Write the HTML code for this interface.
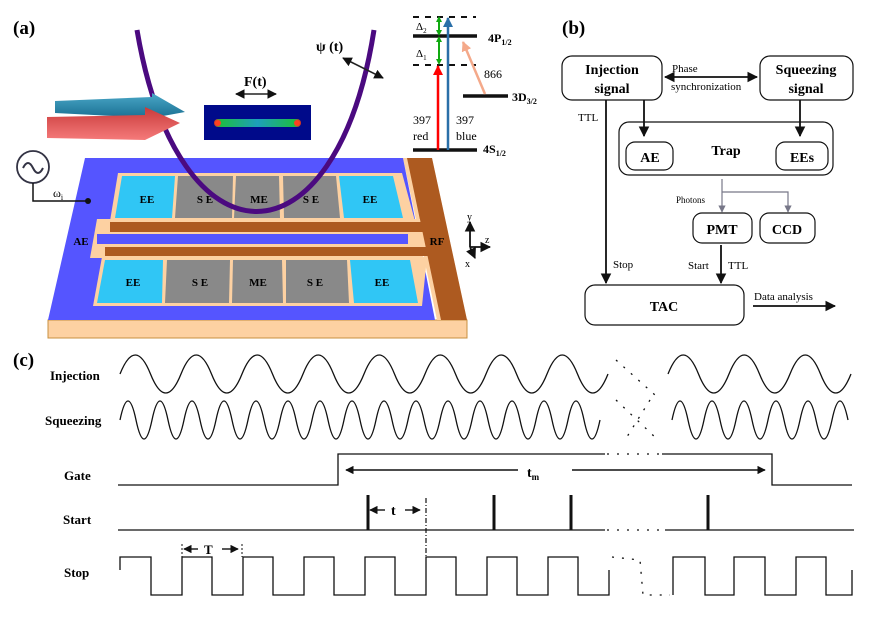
<!DOCTYPE html>
<html><head><meta charset="utf-8"><style>
html,body{margin:0;padding:0;background:#fff;}
svg{display:block;}
text{font-family:"Liberation Serif",serif;}
.b{font-weight:bold;}
</style></head><body>
<svg width="872" height="617" viewBox="0 0 872 617" xmlns="http://www.w3.org/2000/svg">
<defs>
<marker id="ah" viewBox="0 0 10 10" refX="9" refY="5" markerWidth="6" markerHeight="6" orient="auto-start-reverse"><path d="M0,0 L10,5 L0,10 z" fill="#111"/></marker>
<marker id="ahg" viewBox="0 0 10 10" refX="9" refY="5" markerWidth="6" markerHeight="6" orient="auto"><path d="M0,0 L10,5 L0,10 z" fill="#778"/></marker>
<marker id="ahr" viewBox="0 0 10 10" refX="9" refY="5" markerWidth="4" markerHeight="4" orient="auto"><path d="M0,0 L10,5 L0,10 z" fill="#f00"/></marker>
<marker id="ahb" viewBox="0 0 10 10" refX="9" refY="5" markerWidth="4" markerHeight="4" orient="auto"><path d="M0,0 L10,5 L0,10 z" fill="#2a6fa8"/></marker>
<marker id="ahp" viewBox="0 0 10 10" refX="9" refY="5" markerWidth="4" markerHeight="4" orient="auto"><path d="M0,0 L10,5 L0,10 z" fill="#f4a98a"/></marker>
<marker id="ahgr" viewBox="0 0 10 10" refX="5" refY="5" markerWidth="3" markerHeight="3" orient="auto-start-reverse"><path d="M0,0 L10,5 L0,10 z" fill="#1a1"/></marker>
<linearGradient id="gb" x1="0" y1="0" x2="0" y2="1"><stop offset="0" stop-color="#4aa8c8"/><stop offset="1" stop-color="#1a6f92"/></linearGradient>
<linearGradient id="gr" x1="0" y1="0" x2="0" y2="1"><stop offset="0" stop-color="#c83a3a"/><stop offset="1" stop-color="#f57a7a"/></linearGradient>
<linearGradient id="gion" x1="0" y1="0" x2="1" y2="0"><stop offset="0" stop-color="#ff3010"/><stop offset="0.08" stop-color="#20d040"/><stop offset="0.5" stop-color="#20b0c0"/><stop offset="0.92" stop-color="#20d040"/><stop offset="1" stop-color="#ff3010"/></linearGradient>
</defs>

<!-- (a) -->
<text x="13" y="34" font-size="19" class="b">(a)</text>
<polygon points="48,320 467,320 467,338 48,338" fill="#fdd1a2" stroke="#c89040" stroke-width="1"/>
<polygon points="403,158 432,158 467,320 437,320" fill="#fdd1a2"/>
<polygon points="407,158 432,158 467,320 441,320" fill="#ad5a20"/>
<polygon points="85,158 403,158 435,320 48,320" fill="#5555ff"/>
<polygon points="118,173 402,173 415,221 110,221" fill="#fdd1a2"/>
<polygon points="122,176 175,176 172,218 115,218" fill="#30c6f5"/>
<polygon points="178,176 233,176 232,218 175,218" fill="#898989"/>
<polygon points="236,176 279,176 280,218 234,218" fill="#898989"/>
<polygon points="283,176 336,176 340,218 284,218" fill="#898989"/>
<polygon points="339,176 393,176 403,218 344,218" fill="#30c6f5"/>
<polygon points="97,219 420,219 423,258 90,258" fill="#fdd1a2"/>
<rect x="110" y="222" width="315" height="10" fill="#ad5a20"/>
<rect x="97" y="234" width="311" height="10" fill="#5555ff"/>
<rect x="105" y="247" width="325" height="9" fill="#ad5a20"/>
<polygon points="102,257 427,257 422,306 93,306" fill="#fdd1a2"/>
<polygon points="105,260 163,260 162,303 97,303" fill="#30c6f5"/>
<polygon points="167,260 230,260 229,303 165,303" fill="#898989"/>
<polygon points="233,260 282,260 283,303 232,303" fill="#898989"/>
<polygon points="286,260 347,260 349,303 286,303" fill="#898989"/>
<polygon points="350,260 410,260 418,303 354,303" fill="#30c6f5"/>
<g font-size="11" class="b" text-anchor="middle">
<text x="147" y="203">EE</text><text x="205" y="203">S E</text><text x="259" y="203">ME</text><text x="311" y="203">S E</text><text x="370" y="203">EE</text>
<text x="133" y="286">EE</text><text x="200" y="286">S E</text><text x="258" y="286">ME</text><text x="315" y="286">S E</text><text x="382" y="286">EE</text>
<text x="81" y="245">AE</text><text x="437" y="245">RF</text>
</g>
<path d="M137,30 C178,272 336,272 374,30" fill="none" stroke="#4b0a80" stroke-width="5"/>
<circle cx="33" cy="167" r="16" fill="#fff" stroke="#334" stroke-width="1.8"/>
<path d="M23,168 q5,-10 10,0 t10,0" fill="none" stroke="#334" stroke-width="2"/>
<polyline points="33,183 33,201 88,201" fill="none" stroke="#111" stroke-width="1.5"/>
<circle cx="88" cy="201" r="3" fill="#111"/>
<text x="53" y="197" font-size="12">ω<tspan font-size="8" dy="3">i</tspan></text>
<polygon points="55,101 152,97 152,93 185,112 152,118 55,113" fill="url(#gb)"/>
<polygon points="47,117 145,115 145,107 180,123 145,140 47,138" fill="url(#gr)"/>
<rect x="204" y="105" width="107" height="35" fill="#000a8a"/>
<rect x="214" y="119" width="87" height="8" rx="4" fill="url(#gion)" opacity="0.9"/>
<circle cx="218" cy="123" r="3" fill="#ff4020"/><circle cx="297" cy="123" r="3" fill="#ff4020"/>
<text x="244" y="86" font-size="14" class="b">F(t)</text>
<line x1="236" y1="94" x2="276" y2="94" stroke="#222" stroke-width="1.6" marker-start="url(#ah)" marker-end="url(#ah)"/>
<text x="316" y="51" font-size="14" class="b">ψ (t)</text>
<line x1="343" y1="58" x2="383" y2="78" stroke="#222" stroke-width="1.6" marker-start="url(#ah)" marker-end="url(#ah)"/>
<line x1="413" y1="17" x2="476" y2="17" stroke="#111" stroke-width="2" stroke-dasharray="6,6"/>
<line x1="413" y1="65" x2="476" y2="65" stroke="#111" stroke-width="2" stroke-dasharray="6,6"/>
<line x1="413" y1="36" x2="477" y2="36" stroke="#111" stroke-width="3.5"/>
<line x1="413" y1="150" x2="477" y2="150" stroke="#111" stroke-width="3.5"/>
<line x1="463" y1="96" x2="508" y2="96" stroke="#111" stroke-width="3.5"/>
<line x1="438" y1="150" x2="438" y2="66" stroke="#f00" stroke-width="2.5" marker-end="url(#ahr)"/>
<line x1="448" y1="150" x2="448" y2="18" stroke="#2a6fa8" stroke-width="2.5" marker-end="url(#ahb)"/>
<line x1="439" y1="62" x2="439" y2="39" stroke="#1a1" stroke-width="2" marker-start="url(#ahgr)" marker-end="url(#ahgr)"/>
<line x1="439" y1="33" x2="439" y2="19" stroke="#1a1" stroke-width="2" marker-start="url(#ahgr)" marker-end="url(#ahgr)"/>
<line x1="485" y1="94" x2="463" y2="42" stroke="#f4a98a" stroke-width="2.5" marker-end="url(#ahp)"/>
<text x="416" y="30" font-size="11">Δ<tspan font-size="7" dy="3">2</tspan></text>
<text x="416" y="57" font-size="11">Δ<tspan font-size="7" dy="3">1</tspan></text>
<text x="488" y="42" font-size="12" class="b">4P<tspan font-size="8" dy="3">1/2</tspan></text>
<text x="512" y="101" font-size="12" class="b">3D<tspan font-size="8" dy="3">3/2</tspan></text>
<text x="483" y="153" font-size="12" class="b">4S<tspan font-size="8" dy="3">1/2</tspan></text>
<text x="484" y="78" font-size="12">866</text>
<text x="413" y="124" font-size="12">397</text><text x="413" y="140" font-size="12">red</text>
<text x="456" y="124" font-size="12">397</text><text x="456" y="140" font-size="12">blue</text>
<g stroke="#111" stroke-width="1.8" fill="none">
<line x1="470" y1="247" x2="470" y2="222" marker-end="url(#ah)"/>
<line x1="470" y1="247" x2="490" y2="247" marker-end="url(#ah)"/>
<line x1="470" y1="247" x2="475" y2="258" marker-end="url(#ah)"/>
</g>
<text x="467" y="220" font-size="10">y</text><text x="485" y="243" font-size="10">z</text><text x="465" y="267" font-size="10">x</text>

<!-- (b) -->
<text x="562" y="34" font-size="19" class="b">(b)</text>
<g fill="none" stroke="#111" stroke-width="1.2">
<rect x="562" y="56" width="100" height="44" rx="10"/>
<rect x="760" y="56" width="93" height="44" rx="10"/>
<rect x="619" y="122" width="214" height="53" rx="10"/>
<rect x="626" y="142" width="47" height="28" rx="9"/>
<rect x="776" y="142" width="52" height="28" rx="9"/>
<rect x="693" y="213" width="59" height="30" rx="9"/>
<rect x="760" y="213" width="55" height="30" rx="9"/>
<rect x="585" y="285" width="159" height="40" rx="10"/>
</g>
<g font-size="14" class="b" text-anchor="middle">
<text x="612" y="74">Injection</text><text x="612" y="93">signal</text>
<text x="806" y="74">Squeezing</text><text x="806" y="93">signal</text>
<text x="726" y="155">Trap</text>
<text x="650" y="162">AE</text><text x="802" y="162">EEs</text>
<text x="722" y="234">PMT</text><text x="787" y="234">CCD</text>
<text x="664" y="311">TAC</text>
</g>
<g stroke="#111" stroke-width="1.8" fill="none">
<line x1="665" y1="77" x2="757" y2="77" marker-start="url(#ah)" marker-end="url(#ah)"/>
<line x1="644" y1="100" x2="644" y2="136" marker-end="url(#ah)"/>
<line x1="800" y1="100" x2="800" y2="136" marker-end="url(#ah)"/>
<line x1="606" y1="100" x2="606" y2="283" marker-end="url(#ah)"/>
<line x1="721" y1="245" x2="721" y2="283" marker-end="url(#ah)"/>
<line x1="753" y1="306" x2="835" y2="306" marker-end="url(#ah)"/>
</g>
<g stroke="#778" stroke-width="1.2" fill="none">
<line x1="722" y1="179" x2="722" y2="212" marker-end="url(#ahg)"/>
<polyline points="722,192 788,192 788,212" marker-end="url(#ahg)"/>
</g>
<g font-size="11">
<text x="672" y="72">Phase</text><text x="671" y="90">synchronization</text>
<text x="578" y="121">TTL</text>
<text x="676" y="203" font-size="9">Photons</text>
<text x="613" y="268">Stop</text>
<text x="688" y="269">Start</text><text x="728" y="269">TTL</text>
<text x="754" y="300">Data analysis</text>
</g>

<!-- (c) -->
<text x="13" y="366" font-size="19" class="b">(c)</text>
<g font-size="13" class="b">
<text x="50" y="380">Injection</text>
<text x="45" y="425">Squeezing</text>
<text x="64" y="480">Gate</text>
<text x="63" y="524">Start</text>
<text x="64" y="577">Stop</text>
</g>
<g fill="none" stroke="#111" stroke-width="1.3">
<path d="M120,374 Q135.25,336 150.5,374 T181,374 T211.5,374 T242,374 T272.5,374 T303,374 T333.5,374 T364,374 T394.5,374 T425,374 T455.5,374 T486,374 T516.5,374 T547,374 T577.5,374 T608,374"/>
<path d="M668,374 Q683.25,336 698.5,374 T729,374 T759.5,374 T790,374 T820.5,374 T851,374"/>
<path d="M120,420 Q128,382 136,420 T152,420 T168,420 T184,420 T200,420 T216,420 T232,420 T248,420 T264,420 T280,420 T296,420 T312,420 T328,420 T344,420 T360,420 T376,420 T392,420 T408,420 T424,420 T440,420 T456,420 T472,420 T488,420 T504,420 T520,420 T536,420 T552,420 T568,420 T584,420 T600,420"/>
<path d="M672,420 Q680,382 688,420 T704,420 T720,420 T736,420 T752,420 T768,420 T784,420 T800,420 T816,420 T832,420 T848,420"/>
<polyline points="118,485 338,485 338,454 605,454"/>
<polyline points="662,454 772,454 772,485 852,485"/>
<polyline points="118,530 605,530"/>
<polyline points="665,530 854,530"/>
<polyline points="120,570 120,557 151,557 151,595 182,595 182,557 212,557 212,595 243,595 243,557 273,557 273,595 304,595 304,557 334,557 334,595 365,595 365,557 395,557 395,595 426,595 426,557 456,557 456,595 487,595 487,557 517,557 517,595 548,595 548,557 578,557 578,595 609,595 609,570"/>
<polyline points="673,595 673,557 705,557 705,595 734,595 734,557 765,557 765,595 796,595 796,557 826,557 826,595 852,595 852,570"/>
</g>
<g fill="none" stroke="#111" stroke-width="1.3" stroke-dasharray="2,8">
<path d="M616,360 L655,395"/><path d="M616,400 L658,440"/><path d="M650,400 L625,440"/>
<line x1="607" y1="454" x2="660" y2="454"/>
<line x1="607" y1="530" x2="663" y2="530"/>
<path d="M612,557 L640,560 L643,595 L670,595"/>
</g>
<g stroke="#111" stroke-width="3">
<line x1="368" y1="495" x2="368" y2="530"/>
<line x1="494" y1="495" x2="494" y2="530"/>
<line x1="571" y1="495" x2="571" y2="530"/>
<line x1="708" y1="495" x2="708" y2="530"/>
</g>
<line x1="426" y1="498" x2="426" y2="557" stroke="#111" stroke-width="1.2" stroke-dasharray="5,2,1,2"/>
<line x1="182" y1="544" x2="182" y2="557" stroke="#111" stroke-width="1" stroke-dasharray="2,2"/>
<line x1="242" y1="544" x2="242" y2="557" stroke="#111" stroke-width="1" stroke-dasharray="2,2"/>
<g stroke="#111" stroke-width="1.4" fill="none">
<line x1="346" y1="470" x2="518" y2="470" marker-start="url(#ah)"/>
<line x1="572" y1="470" x2="765" y2="470" marker-end="url(#ah)"/>
<line x1="370" y1="510" x2="385" y2="510" marker-start="url(#ah)"/>
<line x1="405" y1="510" x2="420" y2="510" marker-end="url(#ah)"/>
<line x1="184" y1="549" x2="198" y2="549" marker-start="url(#ah)"/>
<line x1="222" y1="549" x2="238" y2="549" marker-end="url(#ah)"/>
</g>
<text x="527" y="477" font-size="14" class="b">t<tspan font-size="9" dy="3">m</tspan></text>
<text x="391" y="515" font-size="14" class="b">t</text>
<text x="204" y="554" font-size="13" class="b">T</text>
</svg>
</body></html>
